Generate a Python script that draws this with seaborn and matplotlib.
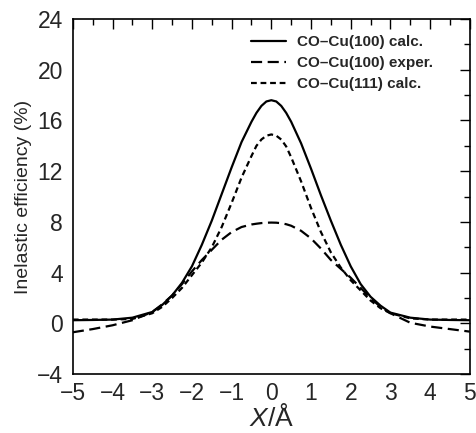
import matplotlib
matplotlib.use("Agg")
import matplotlib.pyplot as plt
from matplotlib.ticker import MultipleLocator
import seaborn as sns
import pandas as pd

# Data
x_vals = [-5, -4.5, -4, -3.5, -3, -2.75, -2.5, -2.25, -2, -1.75, -1.5, -1.25, -1,
          -0.75, -0.5, -0.375, -0.25, -0.125, 0, 0.125, 0.25, 0.375, 0.5, 0.75,
          1, 1.25, 1.5, 1.75, 2, 2.25, 2.5, 2.75, 3, 3.5, 4, 4.5, 5]
calc100 = [0.25, 0.27, 0.3, 0.45, 0.9, 1.45, 2.2, 3.2, 4.5, 6.2, 8.1, 10.2, 12.3,
           14.3, 15.9, 16.6, 17.15, 17.5, 17.6, 17.5, 17.15, 16.6, 15.9, 14.2,
           12.2, 10.1, 8.1, 6.2, 4.5, 3.1, 2.1, 1.4, 0.85, 0.45, 0.3, 0.27, 0.25]
exper100 = [-0.7, -0.45, -0.15, 0.25, 0.9, 1.5, 2.2, 3.1, 4.1, 5.0, 5.8, 6.6, 7.2,
            7.6, 7.8, 7.86, 7.91, 7.94, 7.95, 7.94, 7.9, 7.82, 7.7, 7.3,
            6.7, 5.9, 5.0, 4.3, 3.6, 2.8, 2.0, 1.3, 0.8, 0.05, -0.25, -0.45, -0.65]
calc111 = [0.3, 0.3, 0.3, 0.35, 0.8, 1.3, 2.0, 2.8, 3.8, 4.8, 6.0, 7.6, 9.5,
           11.5, 13.2, 14.0, 14.5, 14.8, 14.9, 14.8, 14.5, 13.95, 13.1, 11.2,
           9.1, 7.2, 5.6, 4.4, 3.4, 2.6, 1.8, 1.2, 0.8, 0.4, 0.3, 0.3, 0.3]
labels = ["CO\u2013Cu(100) calc.", "CO\u2013Cu(100) exper.", "CO\u2013Cu(111) calc."]
x_ticks = [-5, -4, -3, -2, -1, 0, 1, 2, 3, 4, 5]
y_ticks = [-4, 0, 4, 8, 12, 16, 20, 24]

sns.set_theme(style="white")
plt.rcParams['font.family'] = ['Liberation Sans', 'DejaVu Sans']
plt.rcParams['mathtext.fontset'] = 'custom'
plt.rcParams['mathtext.it'] = 'Liberation Sans:italic'
plt.rcParams['mathtext.rm'] = 'Liberation Sans'

fig = plt.figure(figsize=(4.76, 4.33), dpi=100)
ax = fig.add_axes([0.153, 0.136, 0.834, 0.820])

styles = [None, (5, 2.5), (2.6, 1.7)]
for ys, lab in zip([calc100, exper100, calc111], labels):
    df = pd.DataFrame({"x": x_vals, "y": ys})
    sns.lineplot(data=df, x="x", y="y", ax=ax, color="black", lw=1.6,
                 label=lab)
for l, dash in zip(ax.get_lines(), styles):
    if dash is not None:
        l.set_dashes(dash)

ax.set_xlim(-5, 5)
ax.set_ylim(-4, 24)
ax.set_xticks(x_ticks)
ax.set_yticks(y_ticks)
ax.xaxis.set_minor_locator(MultipleLocator(0.5))
ax.yaxis.set_minor_locator(MultipleLocator(2))
ax.tick_params(which='both', direction='in', top=True, right=True, color='black',
               width=1.0)
ax.tick_params(which='major', length=7, labelsize=16.5, pad=6)
ax.tick_params(which='minor', length=4.5)
ax.tick_params(axis='y', which='major', pad=7)
for s in ax.spines.values():
    s.set_color('black')
    s.set_linewidth(1.2)

ax.set_xlabel("$X$/\u00c5", fontsize=19, labelpad=-1)
ax.set_ylabel("Inelastic efficiency (%)", fontsize=14, labelpad=4)

leg = ax.legend(loc='upper right', bbox_to_anchor=(0.922, 0.972), borderaxespad=0,
                frameon=False, handlelength=2.3,
                prop={'weight': 'bold', 'size': 11}, labelspacing=0.45,
                handletextpad=0.7)
for l, dash in zip(leg.get_lines(), styles):
    if dash is not None:
        l.set_dashes(dash)

fig.savefig("out.png", dpi=100)
